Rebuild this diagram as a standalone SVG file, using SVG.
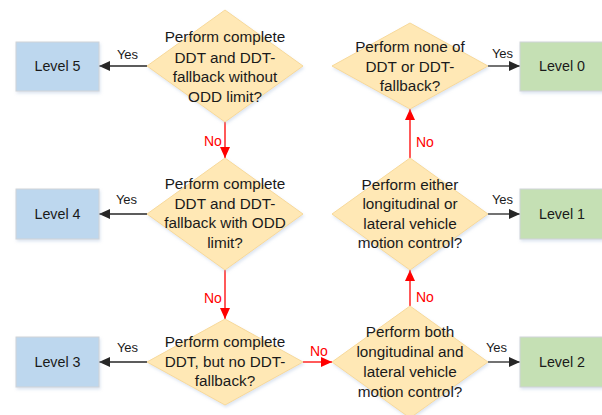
<svg xmlns="http://www.w3.org/2000/svg" width="602" height="415" viewBox="0 0 602 415">
  <style>
    .box { stroke: #cfd3d8; stroke-width: 1; filter: url(#shadow); }
    .blue { fill: #bdd7ee; }
    .green { fill: #c5e0b4; }
    .dec { fill: #ffe8b5; stroke: #f7d99a; stroke-width: 1; filter: url(#shadow); }
    text { font-family: "Liberation Sans", Arial, sans-serif; fill: #1a1a1a; }
    .q { font-size: 15.3px; text-anchor: middle; }
    .lvl { font-size: 14.3px; text-anchor: middle; }
    .yes { font-size: 13px; text-anchor: middle; }
    .no { font-size: 14px; fill: #ff0000; }
    .yesline { stroke: #262626; stroke-width: 1.3; fill: none; marker-end: url(#arrK); }
    .noline { stroke: #ff0000; stroke-width: 1.3; fill: none; marker-end: url(#arrR); }
  </style>
  <defs>
    <filter id="shadow" x="-10%" y="-10%" width="125%" height="130%">
      <feDropShadow dx="1" dy="2" stdDeviation="1.5" flood-color="#9fb6d6" flood-opacity="0.35"/>
    </filter>
    <marker id="arrK" markerUnits="userSpaceOnUse" markerWidth="12" markerHeight="10" refX="11" refY="5" orient="auto">
      <path d="M0,0 L11,5 L0,10 Z" fill="#262626"/>
    </marker>
    <marker id="arrR" markerUnits="userSpaceOnUse" markerWidth="12" markerHeight="10" refX="11" refY="5" orient="auto">
      <path d="M0,0 L11,5 L0,10 Z" fill="#ff0000"/>
    </marker>
  </defs>

  <rect width="602" height="415" fill="#ffffff"/>

  <!-- connectors -->
  <g id="connectors">
    <line class="yesline" x1="147" y1="66" x2="99" y2="66"/>
    <line class="yesline" x1="147" y1="214" x2="99" y2="214"/>
    <line class="yesline" x1="147" y1="362" x2="99" y2="362"/>
    <line class="yesline" x1="488" y1="66" x2="520" y2="66"/>
    <line class="yesline" x1="488" y1="214" x2="520" y2="214"/>
    <line class="yesline" x1="488" y1="362" x2="520" y2="362"/>
    <line class="noline" x1="225" y1="122" x2="225" y2="158"/>
    <line class="noline" x1="225" y1="270" x2="225" y2="319"/>
    <line class="noline" x1="303" y1="362" x2="332" y2="362"/>
    <line class="noline" x1="410" y1="306" x2="410" y2="270"/>
    <line class="noline" x1="410" y1="158" x2="410" y2="109"/>
    <text class="yes" x="127.5" y="59">Yes</text>
    <text class="yes" x="126.5" y="204">Yes</text>
    <text class="yes" x="127.5" y="352">Yes</text>
    <text class="yes" x="502.5" y="58">Yes</text>
    <text class="yes" x="502.5" y="204">Yes</text>
    <text class="yes" x="496.5" y="352">Yes</text>
    <text class="no" x="204" y="146">No</text>
    <text class="no" x="204" y="303">No</text>
    <text class="no" x="310" y="356">No</text>
    <text class="no" x="416" y="302">No</text>
    <text class="no" x="416" y="147">No</text>
  </g>

  <!-- level boxes -->
  <g id="level5">
    <rect class="box blue" x="16" y="42" width="83" height="49"/>
    <text class="lvl" x="57.5" y="71">Level 5</text>
  </g>
  <g id="level4">
    <rect class="box blue" x="16" y="189" width="83" height="50"/>
    <text class="lvl" x="57.5" y="219">Level 4</text>
  </g>
  <g id="level3">
    <rect class="box blue" x="16" y="337" width="83" height="50"/>
    <text class="lvl" x="57.5" y="367">Level 3</text>
  </g>
  <g id="level0">
    <rect class="box green" x="520" y="42" width="84" height="49"/>
    <text class="lvl" x="562" y="71">Level 0</text>
  </g>
  <g id="level1">
    <rect class="box green" x="520" y="189" width="84" height="50"/>
    <text class="lvl" x="562" y="219">Level 1</text>
  </g>
  <g id="level2">
    <rect class="box green" x="520" y="337" width="84" height="50"/>
    <text class="lvl" x="562" y="367">Level 2</text>
  </g>

  <!-- decisions -->
  <g id="q5">
    <polygon class="dec" points="225,10 303,66 225,122 147,66"/>
    <text class="q" x="225" y="42">Perform complete</text>
    <text class="q" x="225" y="62.5">DDT and DDT-</text>
    <text class="q" x="225" y="82">fallback without</text>
    <text class="q" x="225" y="102">ODD limit?</text>
  </g>
  <g id="q4">
    <polygon class="dec" points="225,158 303,214 225,270 147,214"/>
    <text class="q" x="225" y="189">Perform complete</text>
    <text class="q" x="225" y="209">DDT and DDT-</text>
    <text class="q" x="225" y="228">fallback with ODD</text>
    <text class="q" x="225" y="247.5">limit?</text>
  </g>
  <g id="q3">
    <polygon class="dec" points="225,319 303,362 225,405 147,362"/>
    <text class="q" x="225" y="347">Perform complete</text>
    <text class="q" x="225" y="366.5">DDT, but no DDT-</text>
    <text class="q" x="225" y="386">fallback?</text>
  </g>
  <g id="q0">
    <polygon class="dec" points="410,23 488,66 410,109 332,66"/>
    <text class="q" x="410" y="52">Perform none of</text>
    <text class="q" x="410" y="71.5">DDT or DDT-</text>
    <text class="q" x="410" y="91">fallback?</text>
  </g>
  <g id="q1">
    <polygon class="dec" points="410,158 488,214 410,270 332,214"/>
    <text class="q" x="410" y="189.5">Perform either</text>
    <text class="q" x="410" y="209">longitudinal or</text>
    <text class="q" x="410" y="228.5">lateral vehicle</text>
    <text class="q" x="410" y="248">motion control?</text>
  </g>
  <g id="q2">
    <polygon class="dec" points="410,306 488,362 410,418 332,362"/>
    <text class="q" x="410" y="337">Perform both</text>
    <text class="q" x="410" y="357">longitudinal and</text>
    <text class="q" x="410" y="376.5">lateral vehicle</text>
    <text class="q" x="410" y="396.5">motion control?</text>
  </g>
</svg>
